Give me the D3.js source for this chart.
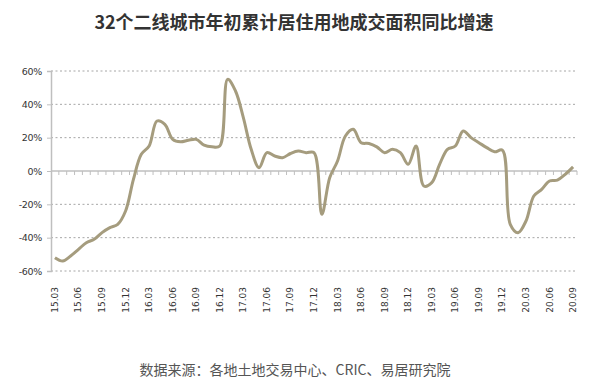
<!DOCTYPE html>
<html>
<head>
<meta charset="utf-8">
<script src="https://cdn.jsdelivr.net/npm/d3@7"></script>
<style>
body { margin: 0; background: #fff; }
svg text { font-family: "DejaVu Sans", sans-serif; }
</style>
</head>
<body>
<div id="chart"></div>
<script>
var width = 600,
	height = 389,
	margin = {left: 51, right: 23, top: 71, bottom: 118};

// monthly categories 15.03 .. 20.09
var months = (function(){
	var m = [];
	for (var y = 15; y <= 20; y++) {
		for (var k = 1; k <= 12; k++) {
			if (y === 15 && k < 3) continue;
			if (y === 20 && k > 9) continue;
			m.push(y + '.' + (k < 10 ? '0' + k : k));
		}
	}
	return m;
}());

// 年初累计同比增速 (%)
var growth = [
	-52, -54, -51, -47, -43, -41, -37, -34, -32, -24,
	-5, 10, 15, 30, 28, 19, 17.5, 18.5, 19, 15.5,
	14.5, 15, 55, 48, 32, 13, 2, 11, 9, 8,
	10.5, 12, 11, 11, -26, -4, 6, 21, 25, 17,
	16.5, 14.5, 11, 13, 11, 4, 15, -9, -7, 4,
	13, 15, 24, 20, 17, 14, 11.5, 12.5, -32, -37,
	-30, -15, -11, -6, -5.5, -2, 2.5
];

var yTicks = [-60, -40, -20, 0, 20, 40, 60];

var svg = d3.select('#chart')
	.append('svg')
	.attr('width', width)
	.attr('height', height);

var x = d3.scaleBand()
	.domain(months)
	.range([margin.left, width - margin.right]);

var y = d3.scaleLinear()
	.domain([-60, 60])
	.range([height - margin.bottom, margin.top]);

// title
svg.append('text')
	.attr('x', 294)
	.attr('y', 29)
	.attr('text-anchor', 'middle')
	.style('font-family', '"Noto Sans CJK SC", sans-serif')
	.style('font-size', '18px')
	.style('font-weight', 'bold')
	.attr('fill', '#333')
	.text('32个二线城市年初累计居住用地成交面积同比增速');

// grid
svg.append('g')
	.selectAll('line')
	.data(yTicks.filter(function(d){ return d !== 0; }))
	.enter()
	.append('line')
	.attr('x1', margin.left)
	.attr('x2', width - margin.right)
	.attr('y1', function(d){ return y(d); })
	.attr('y2', function(d){ return y(d); })
	.attr('stroke', '#a6a6a6')
	.attr('stroke-width', 1)
	.attr('stroke-dasharray', '2,2.5');

// y axis
var yAxis = svg.append('g')
	.attr('transform', 'translate(' + margin.left + ',0)')
	.call(d3.axisLeft(y).tickValues(yTicks).tickSize(4).tickPadding(5)
		.tickFormat(function(d){ return d + '%'; }));
yAxis.select('.domain').attr('stroke', '#bfbfbf').attr('stroke-width', 1.5);
yAxis.selectAll('.tick line').attr('stroke', '#bfbfbf');
yAxis.selectAll('text').style('font-size', '9.5px').attr('fill', '#333').attr('letter-spacing', '-0.3');

// zero axis with monthly ticks
svg.append('line')
	.attr('x1', margin.left)
	.attr('x2', width - margin.right)
	.attr('y1', y(0))
	.attr('y2', y(0))
	.attr('stroke', '#bfbfbf')
	.attr('stroke-width', 1.5);

svg.append('g')
	.selectAll('line')
	.data(months)
	.enter()
	.append('line')
	.attr('x1', function(d){ return x(d) + x.bandwidth(); })
	.attr('x2', function(d){ return x(d) + x.bandwidth(); })
	.attr('y1', y(0))
	.attr('y2', y(0) + 4)
	.attr('stroke', '#bfbfbf')
	.attr('stroke-width', 1);

// x labels every 3 months
svg.append('g')
	.selectAll('text')
	.data(months.filter(function(d, i){ return i % 3 === 0; }))
	.enter()
	.append('text')
	.attr('transform', function(d){
		return 'translate(' + (x(d) + x.bandwidth() / 2 + 3) + ',287) rotate(-90)';
	})
	.attr('text-anchor', 'end')
	.style('font-size', '9px')
	.attr('fill', '#333')
	.text(function(d){ return d; });

// line
var line = d3.line()
	.x(function(d, i){ return x(months[i]) + x.bandwidth() / 2; })
	.y(function(d){ return y(d); })
	.curve(d3.curveCatmullRom.alpha(0.5));

svg.append('path')
	.datum(growth)
	.attr('d', line)
	.attr('fill', 'none')
	.attr('stroke', '#a59c7e')
	.attr('stroke-width', 3)
	.attr('stroke-linejoin', 'round');

// source
svg.append('text')
	.attr('x', 295)
	.attr('y', 375)
	.attr('text-anchor', 'middle')
	.style('font-family', '"Noto Sans CJK SC", sans-serif')
	.style('font-size', '14px')
	.attr('fill', '#555')
	.text('数据来源：各地土地交易中心、CRIC、易居研究院');
</script>
</body>
</html>
